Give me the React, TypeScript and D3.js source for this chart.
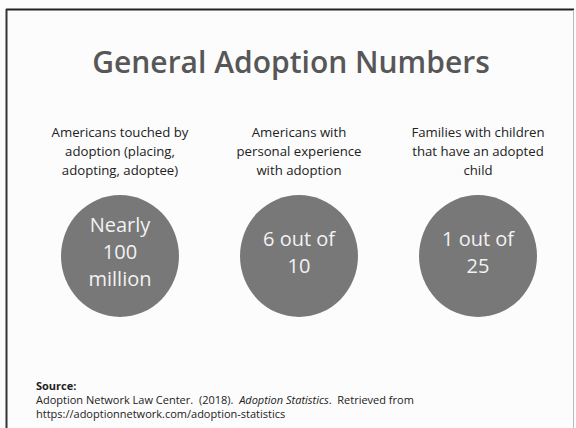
import React, { useRef, useEffect } from 'react';
import * as d3 from 'd3';

const TITLE = "General Adoption Numbers";

const CATEGORIES = ["touched", "experience", "families"];

const CATEGORY_LABELS = [
    ["Americans touched by", "adoption (placing,", "adopting, adoptee)"],
    ["Americans with", "personal experience", "with adoption"],
    ["Families with children", "that have an adopted", "child"]
];

const STAT_TEXT = [
    ["Nearly", "100", "million"],
    ["6 out of", "10"],
    ["1 out of", "25"]
];

const SOURCE_LINES = [
    "Adoption Network Law Center.  (2018).  ",
    "Adoption Statistics",
    ".  Retrieved from",
    "https://adoptionnetwork.com/adoption-statistics"
];

const FONT = "'Open Sans', 'DejaVu Sans', sans-serif";

function App() {
    const svgRef = useRef();
    const width = 576;
    const height = 428;

    useEffect(() => {
        const svg = d3.select(svgRef.current);
        svg.selectAll("*").remove();

        svg.append("rect")
            .attr("width", width)
            .attr("height", height)
            .attr("fill", "#fcfcfc");

        // slide frame
        svg.append("line")
            .attr("x1", 6).attr("x2", 574).attr("y1", 9.5).attr("y2", 9.5)
            .attr("stroke", "#222").attr("stroke-width", 2);
        svg.append("line")
            .attr("x1", 6.5).attr("x2", 6.5).attr("y1", 9).attr("y2", height)
            .attr("stroke", "#333").attr("stroke-width", 2);
        svg.append("line")
            .attr("x1", 573.5).attr("x2", 573.5).attr("y1", 10).attr("y2", height)
            .attr("stroke", "#bbb").attr("stroke-width", 1);

        svg.append("text")
            .attr("x", 291)
            .attr("y", 73)
            .attr("text-anchor", "middle")
            .attr("font-family", FONT)
            .attr("font-size", 30)
            .attr("font-weight", 600)
            .attr("fill", "#575757")
            .text(TITLE);

        const x = d3.scalePoint()
            .domain(CATEGORIES)
            .range([120, 478]);

        const cols = svg.selectAll("g.col")
            .data(CATEGORIES)
            .enter()
            .append("g")
            .attr("class", "col")
            .attr("transform", d => `translate(${x(d)}, 0)`);

        cols.each(function (d, i) {
            const g = d3.select(this);
            g.selectAll("text.label")
                .data(CATEGORY_LABELS[i])
                .enter()
                .append("text")
                .attr("class", "label")
                .attr("y", (t, j) => 137 + j * 19)
                .attr("text-anchor", "middle")
                .attr("font-family", FONT)
                .attr("font-size", 13.2)
                .attr("fill", "#222")
                .text(t => t);

            g.append("ellipse")
                .attr("cx", 0)
                .attr("cy", 256)
                .attr("rx", 59)
                .attr("ry", 61)
                .attr("fill", "#787878");

            const lines = STAT_TEXT[i];
            const mid = 252;
            g.selectAll("text.stat")
                .data(lines)
                .enter()
                .append("text")
                .attr("class", "stat")
                .attr("y", (t, j) => mid + 7 + (j - (lines.length - 1) / 2) * 27)
                .attr("text-anchor", "middle")
                .attr("font-family", FONT)
                .attr("font-size", 20)
                .attr("fill", "#f2f2f2")
                .text(t => t);
        });

        const src = svg.append("g")
            .attr("font-family", FONT)
            .attr("font-size", 11)
            .attr("fill", "#222");

        src.append("text")
            .attr("x", 36).attr("y", 390)
            .attr("font-weight", "bold")
            .text("Source:");

        const line2 = src.append("text")
            .attr("x", 36).attr("y", 404)
            .attr("xml:space", "preserve");
        line2.append("tspan").text(SOURCE_LINES[0]);
        line2.append("tspan").attr("font-style", "italic").text(SOURCE_LINES[1]);
        line2.append("tspan").text(SOURCE_LINES[2]);

        src.append("text")
            .attr("x", 36).attr("y", 418)
            .text(SOURCE_LINES[3]);
    }, []);

    return (
        <svg
            ref={svgRef}
            width={width}
            height={height}
            style={{ position: "absolute", left: 0, top: 0 }}
        />
    );
}

export default App;
